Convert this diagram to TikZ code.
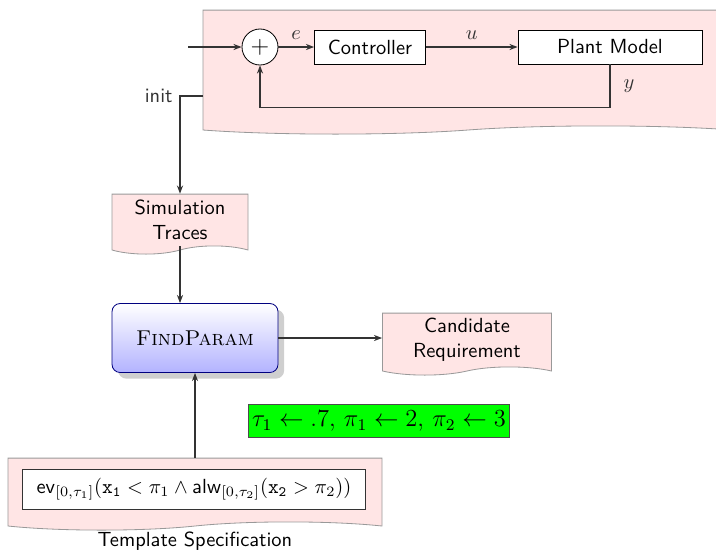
\documentclass[tikz,border=0pt]{standalone}
\usepackage{amsmath,amssymb}
\usetikzlibrary{positioning, arrows.meta, shapes.symbols, shadows, calc}

\newlength\px
\setlength\px{0.0172cm}

\begin{document}
\begin{tikzpicture}[
    x=\px, y=-\px,
    doc/.style={
      tape, tape bend top=none, tape bend height=4pt, draw=gray!80, fill=red!10,
      font=\sffamily, align=center, inner sep=2pt
    },
    block/.style={draw, fill=white, minimum height=34\px, font=\sffamily},
    arr/.style={-{Stealth[length=4pt]}, semithick, black!80},
    lbl/.style={font=\sffamily}
  ]
    \useasboundingbox (0,0) rectangle (716,556);

    % Control loop (top)
    \node[doc, minimum width=530\px, minimum height=124\px] (loop) at (468,68) {};
    \node[draw, circle, minimum size=36\px, inner sep=0pt, fill=white, font=\large] (sum) at (260,47) {$+$};
    \node[block, minimum width=111\px] (ctrl)  at (370,47) {Controller};
    \node[block, minimum width=184\px] (plant) at (610,47) {Plant Model};
    \coordinate (ref) at (188,47);
    \coordinate (initout) at (203,96);

    \draw[arr] (ref) -- (sum.west);
    \draw[arr] (sum.east) -- node[above] {$e$} (ctrl.west);
    \draw[arr] (ctrl.east) -- node[above] {$u$} (plant.west);
    \draw[arr] (plant.south) -- ++(0,43) node[pos=0.5, right=3pt] {$y$} -| (sum.south);

    % Data flow (bottom)
    \node[doc, minimum width=136\px, minimum height=60\px] (sim) at (180,220) {Simulation\\Traces};
    \node[draw=blue!50!black, rounded corners=4pt, top color=white, bottom color=blue!30,
          drop shadow={fill=gray!75, shadow xshift=3pt, shadow yshift=-3pt},
          minimum width=166\px, minimum height=69\px,
          font=\fontsize{10.5}{12}\selectfont] (find) at (195,338) {\textsc{FindParam}};
    \node[doc, minimum width=169\px, minimum height=62\px] (cand) at (467,340) {Candidate\\Requirement};
    \node[draw=black!70, fill=green, font=\large, minimum width=261\px, minimum height=33\px,
          inner sep=1pt] (vals) at (379,421)
      {$\tau_1 \leftarrow .7,\, \pi_1 \leftarrow 2,\, \pi_2 \leftarrow 3$};
    \node[doc, minimum width=374\px, minimum height=72\px] (tmpl) at (195,490) {};
    \node[draw=black!80, fill=white, minimum width=343\px, minimum height=40\px, inner sep=2pt]
      (form) at (194,489)
      {$\mathsf{ev}_{[0,\tau_1]}(\mathtt{x}_{\mathtt{1}} < \pi_1 \wedge
        \mathsf{alw}_{[0,\tau_2]}(\mathtt{x}_{\mathtt{2}} > \pi_2))$};
    \node[lbl, below=1pt of tmpl.south] (tlabel) {Template Specification};

    \draw[arr] (initout) -| node[pos=0.5, left] {\sffamily init} (sim.north);
    \draw[arr] (sim.south) -- (sim.south |- find.north);
    \draw[arr] (find.east) -- (find.east -| cand.west);
    \draw[arr] (tmpl.north) -- (find.south);
\end{tikzpicture}
\end{document}
